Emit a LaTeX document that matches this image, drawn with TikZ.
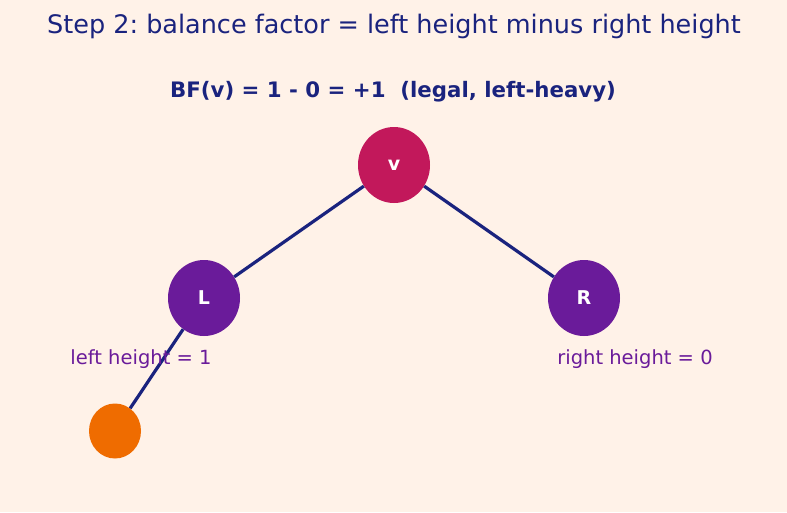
\documentclass[tikz,border=0pt]{standalone}
\usepackage{fontspec}
\setmainfont{DejaVu Sans}
\usepackage{xcolor}
\usetikzlibrary{shapes.geometric}
\frenchspacing

\definecolor{bgpeach}{HTML}{FFF2E8}
\definecolor{navy}{HTML}{1A237E}
\definecolor{crimson}{HTML}{C2185B}
\definecolor{grape}{HTML}{6A1B9A}
\definecolor{tangerine}{HTML}{EF6C00}

\begin{document}
\begin{tikzpicture}[x=1pt, y=1pt, level distance=133pt,
    level 1/.style={sibling distance=380pt},
    level 2/.style={sibling distance=178pt},
    edge from parent/.style={draw=navy, line width=3.2pt}]
\tikzstyle{treenode}=[ellipse, minimum width=72pt, minimum height=76pt, inner sep=0pt,
    text=white, font=\fontsize{19}{21}\selectfont\bfseries]
\tikzstyle{heightlabel}=[text=grape, font=\fontsize{19.5}{22}\selectfont]
\useasboundingbox (0,0) rectangle (787,-512);
\fill[bgpeach] (0,0) rectangle (787,-512);

\node[text=navy, font=\fontsize{25.5}{30}\selectfont] (title) at (394,-26)
    {Step 2: balance factor = left height minus right height};
\node[text=navy, font=\fontsize{21.3}{25}\selectfont\bfseries] (bf) at (393,-92)
    {BF(v) = 1 - 0 = +1\ \ (legal, left-heavy)};

\node[treenode, fill=crimson] (v) at (394,-165) {v}
    child { node[treenode, fill=grape] (l) {L}
        child { node[treenode, fill=tangerine, minimum width=52pt, minimum height=55pt] (leaf) {} }
        child[missing] {}
    }
    child { node[treenode, fill=grape] (r) {R} }
    ;

\node[heightlabel] (lh) at (141,-359) {left height = 1};
\node[heightlabel] (rh) at (635,-359) {right height = 0};
\end{tikzpicture}
\end{document}
